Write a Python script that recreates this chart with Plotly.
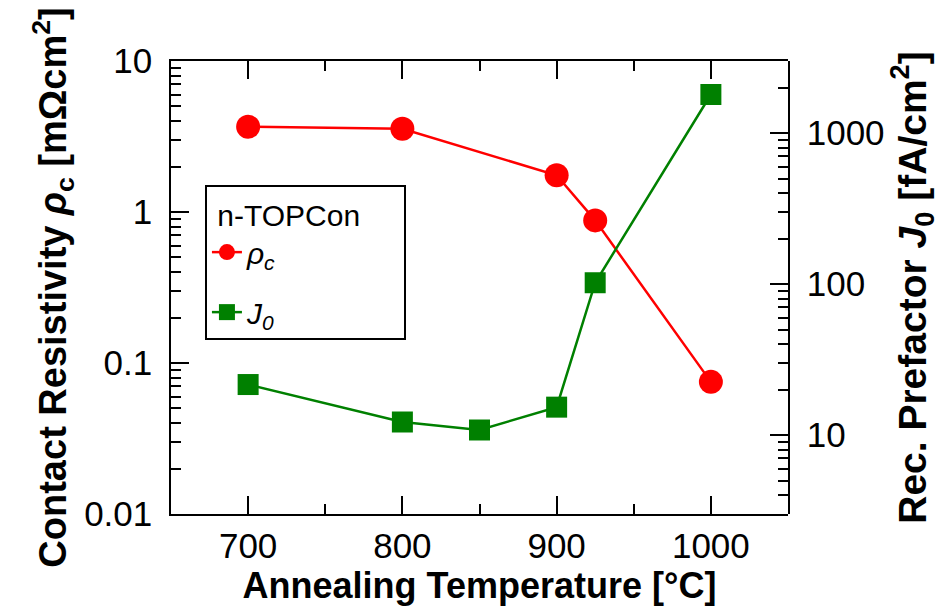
import plotly.graph_objects as go

temps_rho = [700, 800, 900, 925, 1000]
rho_c = [3.67, 3.56, 1.75, 0.88, 0.075]
temps_j0 = [700, 800, 850, 900, 925, 1000]
j0 = [21.6, 12.2, 10.8, 15.3, 102, 1800]

NB = "\u00a0"
left_major = [0.01, 0.1, 1, 10]
left_labels = ["0.01" + NB, "0.1" + NB, "1" + NB, "10" + NB]
right_major = [10, 100, 1000]
right_labels = [NB + "10", NB + "100", NB + "1000"]

left_minor = [m * 10 ** e for e in (-2, -1, 0) for m in range(2, 10)]
right_minor = [m * 10 ** e for e in (0, 1, 2, 3) for m in range(2, 10)]
right_minor = [v for v in right_minor if 3 <= v <= 3000]

FONT = "Liberation Sans, Arial, sans-serif"

fig = go.Figure()
fig.add_trace(go.Scatter(
    x=temps_rho, y=rho_c, mode="lines+markers",
    name="<i>ρ</i><sub><i>c</i></sub>",
    legendgroup="a",
    line=dict(color="#ff0000", width=2.5),
    marker=dict(symbol="circle", size=24, color="#ff0000"),
    xaxis="x", yaxis="y",
))
fig.add_trace(go.Scatter(
    x=temps_j0, y=j0, mode="lines+markers",
    name="<i>J</i><sub><i>0</i></sub>",
    legendgroup="b",
    line=dict(color="#008000", width=2.5),
    marker=dict(symbol="square", size=21, color="#008000"),
    xaxis="x2", yaxis="y2",
))

tick_common = dict(ticks="inside", ticklen=18, tickwidth=2, tickcolor="black",
                   showline=True, linewidth=2, linecolor="black", showgrid=False)
minor_common = dict(ticks="inside", ticklen=10, tickwidth=2, tickcolor="black", showgrid=False)

fig.update_layout(
    width=940, height=612,
    margin=dict(l=171, r=152, t=61, b=98),
    plot_bgcolor="rgba(0,0,0,0)", paper_bgcolor="white",
    font=dict(color="black"),
    showlegend=True,
    legend=dict(
        x=0.055, y=0.726, xanchor="left", yanchor="top",
        bordercolor="black", borderwidth=2, bgcolor="white",
        title=dict(text=NB + "n-TOPCon" + NB * 5, font=dict(family=FONT, size=30, color="black")),
        font=dict(family=FONT, size=30, color="black"),
        tracegroupgap=18,
    ),
    xaxis=dict(
        domain=[0, 1], anchor="y",
        range=[650, 1050], dtick=100, tick0=700,
        minor=dict(dtick=50, **minor_common),
        mirror="ticks",
        tickfont=dict(family=FONT, size=35, color="black"),
        title=dict(text="<b>Annealing Temperature [°C]</b>",
                   font=dict(family=FONT, size=36, color="black"), standoff=2),
        **tick_common,
    ),
    yaxis=dict(
        domain=[0, 1], anchor="x",
        type="log", range=[-2, 1],
        tickvals=left_major, ticktext=left_labels,
        minor=dict(tickvals=left_minor, **minor_common),
        tickfont=dict(family=FONT, size=35, color="black"),
        title=dict(text="<b>Contact Resistivity <i>ρ</i><sub>c</sub> [mΩcm<sup>2</sup>]</b>",
                   font=dict(family=FONT, size=38, color="black"), standoff=6),
        **tick_common,
    ),
    xaxis2=dict(
        domain=[0, 1], anchor="y2",
        range=[650, 1050], visible=False,
    ),
    yaxis2=dict(
        domain=[0, 1], anchor="x2", side="right",
        type="log", range=[0.4771, 3.4771],
        tickvals=right_major, ticktext=right_labels,
        minor=dict(tickvals=right_minor, **minor_common),
        tickfont=dict(family=FONT, size=35, color="black"),
        title=dict(text="<b>Rec. Prefactor <i>J</i><sub>0</sub> [fA/cm<sup>2</sup>]</b>",
                   font=dict(family=FONT, size=39, color="black"), standoff=8),
        **tick_common,
    ),
)

fig.write_html("out.html")
